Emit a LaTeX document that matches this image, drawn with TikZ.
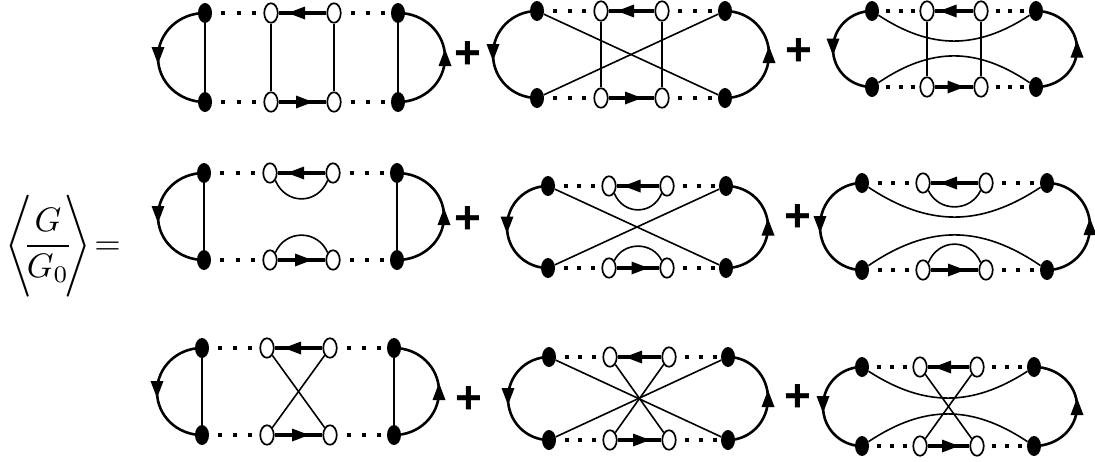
\documentclass[tikz,border=0pt]{standalone}
\usepackage{fontspec}
\usepackage{graphicx}
\newfontfamily\plusfont{Liberation Sans}
\usetikzlibrary{shapes.geometric,decorations.markings}
\tikzset{
  blackv/.style={ellipse,fill=black,draw=none,inner sep=0pt,minimum width=14pt,minimum height=20pt},
  openv/.style={ellipse,fill=white,draw=black,line width=1.7pt,inner sep=0pt,minimum width=13.5pt,minimum height=19.5pt},
  thin line/.style={line width=1.6pt,black},
  loop line/.style={line width=2.6pt},
  prop line/.style={line width=3.2pt},
  tipat/.style={postaction={decorate,decoration={markings,mark=at position 0.5 with {\fill[xshift=#1pt] (8.5pt,0pt) -- (-8.5pt,6.5pt) -- (-8.5pt,-6.5pt) -- cycle;}}}},
  plusmark/.style={font=\plusfont\bfseries\fontsize{46}{46}\selectfont,inner sep=0pt},
}
% nodes, dotted rungs, propagators and outer loops of one diagram
\newcommand{\dgm}[9]{%
  \node[blackv] (#1-LT) at (#2,#6) {};
  \node[blackv] (#1-LB) at (#2,#7) {};
  \node[blackv] (#1-RT) at (#5,#6) {};
  \node[blackv] (#1-RB) at (#5,#7) {};
  \node[openv] (#1-TL) at (#3,#6) {};
  \node[openv] (#1-TR) at (#4,#6) {};
  \node[openv] (#1-BL) at (#3,#7) {};
  \node[openv] (#1-BR) at (#4,#7) {};
  \pgfmathsetmacro{\gsp}{(#3-#2-14)/3.4}
  \pgfmathsetmacro{\goff}{\gsp-4}
  \pgfmathsetmacro{\gph}{0.4*\gsp}
  \foreach \p/\q in {LT/TL,TR/RT,LB/BL,BR/RB}{
    \draw[line width=3.6pt,dash pattern=on 4pt off \goff pt,dash phase=\gph pt] (#1-\p) -- (#1-\q);
  }
  \draw[prop line,tipat=6] (#1-TR) -- (#1-TL);
  \draw[prop line,tipat=2] (#1-BL) -- (#1-BR);
  \pgfmathsetmacro{\ym}{(#6+#7)/2}
  \pgfmathsetmacro{\hk}{0.28*(#7-#6)}
  \pgfmathsetmacro{\lc}{#2-0.55*(#2-#8)}
  \pgfmathsetmacro{\rc}{#5+0.55*(#9-#5)}
  \draw[loop line,tipat=-2] (#1-LT.center) .. controls (\lc,#6) and (#8,\ym-\hk) .. (#8,\ym) .. controls (#8,\ym+\hk) and (\lc,#7) .. (#1-LB.center);
  \draw[loop line,tipat=0] (#1-RB.center) .. controls (\rc,#7) and (#9,\ym+\hk) .. (#9,\ym) .. controls (#9,\ym-\hk) and (\rc,#6) .. (#1-RT.center);
}
\newcommand{\rails}[1]{\draw[thin line] (#1-LT) -- (#1-LB); \draw[thin line] (#1-RT) -- (#1-RB);}
\newcommand{\xcross}[1]{\draw[thin line] (#1-LT) -- (#1-RB); \draw[thin line] (#1-RT) -- (#1-LB);}
% #2,#3: L,R x; #4,#5: T,B y; #6,#7: lowest point of the upper curve, highest of the lower curve
\newcommand{\wave}[7]{%
  \pgfmathsetmacro{\wa}{#2+0.36*(#3-#2)}
  \pgfmathsetmacro{\wb}{#3-0.36*(#3-#2)}
  \pgfmathsetmacro{\wu}{(#6-0.25*#4)/0.75}
  \pgfmathsetmacro{\wl}{(#7-0.25*#5)/0.75}
  \draw[thin line] (#1-LT) .. controls (\wa,\wu) and (\wb,\wu) .. (#1-RT);
  \draw[thin line] (#1-LB) .. controls (\wa,\wl) and (\wb,\wl) .. (#1-RB);
}
\newcommand{\bx}[1]{\draw[thin line] (#1-TL) -- (#1-BL); \draw[thin line] (#1-TR) -- (#1-BR);}
\newcommand{\icross}[1]{\draw[thin line] (#1-TL) -- (#1-BR); \draw[thin line] (#1-TR) -- (#1-BL);}
% #2,#3: a,b x; #4,#5: T,B y; #6,#7: extreme y of upper and lower arcs
\newcommand{\arcs}[7]{%
  \pgfmathsetmacro{\aa}{#2+0.25*(#3-#2)}
  \pgfmathsetmacro{\ab}{#3-0.25*(#3-#2)}
  \pgfmathsetmacro{\au}{(#6-0.25*(#4+8))/0.75}
  \pgfmathsetmacro{\al}{(#7-0.25*(#5-8))/0.75}
  \draw[thin line] (#1-TL.south east) .. controls (\aa,\au) and (\ab,\au) .. (#1-TR.south west);
  \draw[thin line] (#1-BL.north east) .. controls (\aa,\al) and (\ab,\al) .. (#1-BR.north west);
}
\begin{document}
\begin{tikzpicture}[x=1pt,y=-1pt]
\useasboundingbox (0,0) rectangle (1095,461);
\node[inner sep=0pt,anchor=center] (lhs) at (63,246) {\scalebox{3.4}{$\displaystyle\nulldelimiterspace=0pt\delimiterfactor=1000\delimitershortfall=0pt\left\langle\rule[-12.5pt]{0pt}{30pt}\mskip-3mu\frac{G}{G_0}\mskip-3mu\right\rangle\mskip-3mu=$}};

\dgm{a}{205}{271}{334}{398}{13}{102}{158}{445}
\rails{a}\bx{a}
\dgm{b}{537}{601}{662}{725}{11}{98}{493}{769}
\xcross{b}\bx{b}
\dgm{c}{872}{927}{981}{1036}{11}{87}{833}{1077}
\wave{c}{872}{1036}{11}{87}{40}{57}\bx{c}

\dgm{d}{204}{270}{333}{397}{173}{260}{158}{444}
\rails{d}\arcs{d}{270}{333}{173}{260}{199}{235}
\dgm{e}{548}{609}{667}{726}{186}{268}{507}{768}
\xcross{e}\arcs{e}{609}{667}{186}{268}{210}{246}
\dgm{f}{862}{923}{986}{1047}{183}{270}{820}{1090}
\wave{f}{862}{1047}{183}{270}{216}{236}\arcs{f}{923}{986}{183}{270}{207}{244}

\dgm{g}{202}{267}{330}{394}{348}{435}{157}{439}
\rails{g}\icross{g}
\dgm{h}{549}{610}{669}{728}{357}{440}{508}{768}
\xcross{h}\icross{h}
\dgm{i}{862}{920}{977}{1034}{367}{446}{823}{1077}
\wave{i}{862}{1034}{367}{446}{397}{415}\icross{i}

\node[plusmark] (p1) at (468,55) {+};
\node[plusmark] (p2) at (799,52) {+};
\node[plusmark] (p3) at (468,220) {+};
\node[plusmark] (p4) at (798,218) {+};
\node[plusmark] (p5) at (469,400) {+};
\node[plusmark] (p6) at (798,398) {+};
\end{tikzpicture}
\end{document}
